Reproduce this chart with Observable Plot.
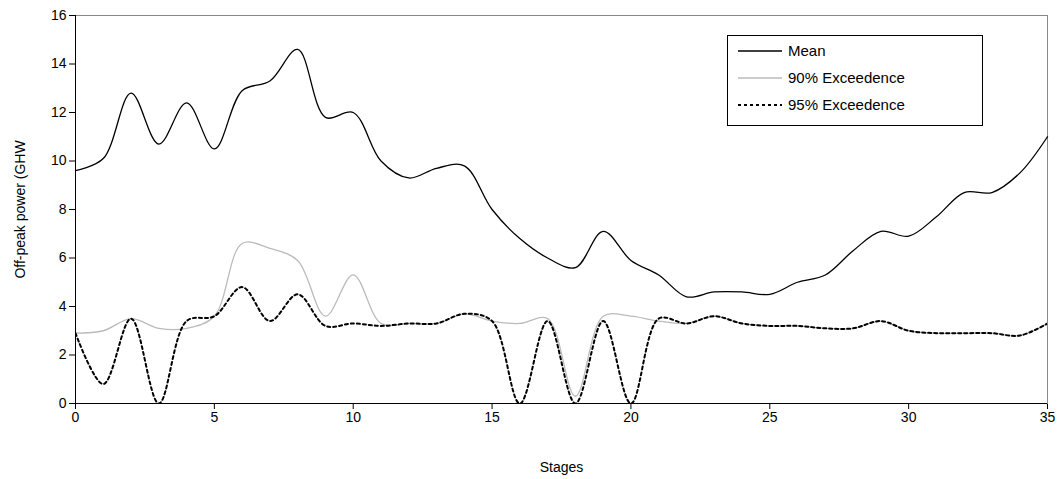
<!DOCTYPE html>
<html><head>
<meta charset="utf-8">
<script src="https://cdn.jsdelivr.net/npm/d3@7"></script>
<script src="https://cdn.jsdelivr.net/npm/@observablehq/plot@0.6"></script>
<style>
body{margin:0;background:#fff;font-family:"Liberation Sans",Arial,sans-serif}
#wrap{position:relative;width:1062px;height:479px}
#legend{position:absolute;left:727px;top:35px;width:254px;height:89px;border:1px solid #000;background:#fff;font-size:15px}
.row{position:absolute;left:10px;display:flex;align-items:center}
.row svg{margin-right:6px}
</style></head><body>
<div id="wrap"><div id="chart"></div>
<div id="legend">
<div class="row" style="top:6px"><svg width="44" height="4"><line x1="0" x2="44" y1="2" y2="2" stroke="#000" stroke-width="1.3"/></svg>Mean</div>
<div class="row" style="top:33px"><svg width="44" height="4"><line x1="0" x2="44" y1="2" y2="2" stroke="#bbb" stroke-width="1.3"/></svg>90% Exceedence</div>
<div class="row" style="top:60px"><svg width="44" height="4"><line x1="0" x2="44" y1="2" y2="2" stroke="#000" stroke-width="2" stroke-dasharray="3,3"/></svg>95% Exceedence</div>
</div></div>
<script>
const stages = d3.range(0, 36);
const mean = [9.6,10.1,12.8,10.7,12.4,10.5,12.9,13.3,14.6,11.8,12.0,10.0,9.3,9.7,9.8,8.0,6.8,6.0,5.6,7.1,5.9,5.3,4.4,4.6,4.6,4.5,5.0,5.3,6.3,7.1,6.9,7.7,8.7,8.7,9.5,11.0];
const p90 = [2.9,3.0,3.5,3.1,3.1,3.6,6.6,6.4,5.9,3.6,5.3,3.3,3.3,3.3,3.7,3.4,3.3,3.5,0.3,3.6,3.6,3.4,3.3,3.6,3.3,3.2,3.2,3.1,3.1,3.4,3.0,2.9,2.9,2.9,2.8,3.3];
const p95 = [2.9,0.8,3.5,0.0,3.4,3.6,4.8,3.4,4.5,3.2,3.3,3.2,3.3,3.3,3.7,3.4,0.0,3.4,0.0,3.4,0.0,3.5,3.3,3.6,3.3,3.2,3.2,3.1,3.1,3.4,3.0,2.9,2.9,2.9,2.8,3.3];
const rows = (v) => stages.map((s, i) => ({s, v: v[i]}));
const chart = Plot.plot({
  width: 1062, height: 479,
  marginLeft: 75, marginRight: 15, marginTop: 15, marginBottom: 76,
  style: {fontSize: "14px", fontFamily: "Liberation Sans, Arial, sans-serif", color: "#000"},
  x: {domain: [0, 35], ticks: d3.range(0, 36, 5), label: "Stages", labelArrow: "none", labelAnchor: "center", labelOffset: 68, tickSize: 6},
  y: {domain: [0, 16], ticks: d3.range(0, 17, 2), label: "Off-peak power (GHW", labelArrow: "none", labelAnchor: "center", labelOffset: 60, tickSize: 6},
  marks: [
    Plot.frame({stroke: "#888"}),
    Plot.line(rows(p90), {x: "s", y: "v", curve: "catmull-rom", stroke: "#bbb", strokeWidth: 1.3, clip: true}),
    Plot.line(rows(p95), {x: "s", y: "v", curve: "catmull-rom", stroke: "#000", strokeWidth: 2, strokeDasharray: "3,3", clip: true}),
    Plot.line(rows(mean), {x: "s", y: "v", curve: "catmull-rom", stroke: "#000", strokeWidth: 1.3}),
    Plot.ruleY([0]), Plot.ruleX([0])
  ]
});
d3.select("#chart").append(() => chart);
</script></body></html>
